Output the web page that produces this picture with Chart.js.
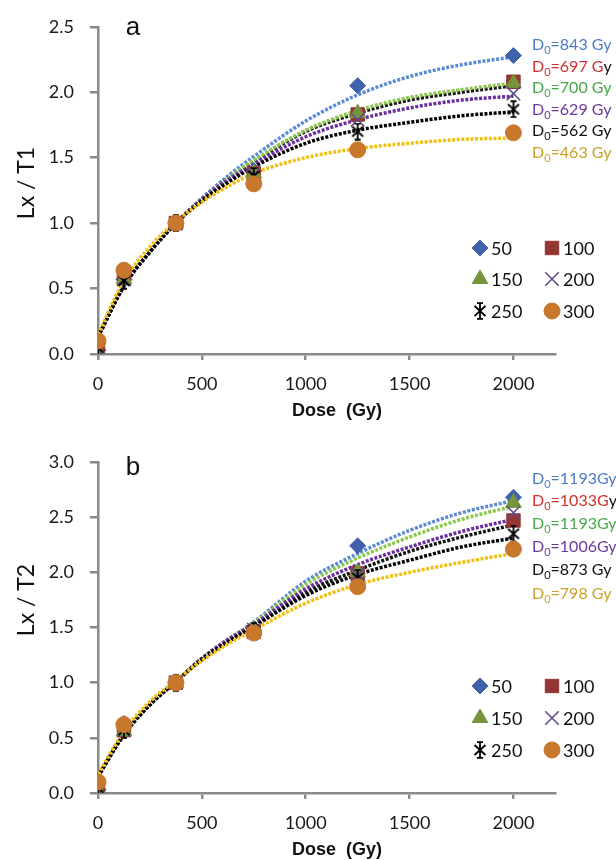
<!DOCTYPE html>
<html><head><meta charset="utf-8">
<script src="https://cdn.jsdelivr.net/npm/chart.js@4/dist/chart.umd.min.js"></script>
<style>
html,body{margin:0;padding:0;background:#fff;}
#wrap{width:616px;height:860px;position:relative;overflow:hidden;}
.box{position:absolute;left:0;width:616px;height:430px;}
</style></head><body>
<div id="wrap">
<div class="box" style="top:0"><canvas id="ca" width="616" height="430"></canvas></div>
<div class="box" style="top:430px"><canvas id="cb" width="616" height="430"></canvas></div>
</div>
<script>
// ---------- data ----------
const seriesNames = ['50','100','150','200','250','300'];
const doses = [0,125,375,750,1250,2000];
const fitDoses = [0,125,250,375,500,625,750,1000,1250,1500,1750,2000];
const yTicksA = [0,0.5,1.0,1.5,2.0,2.5];
const yTicksB = [0,0.5,1.0,1.5,2.0,2.5,3.0];
const xTicks = [0,500,1000,1500,2000];

// panel a measured points
const a50  = [0.03,0.57,1.00,1.40,2.05,2.28];
const a100 = [0.05,0.58,1.00,1.38,1.83,2.08];
const a150 = [0.02,0.57,1.00,1.38,1.84,2.07];
const a200 = [0.03,0.57,1.00,1.37,1.79,1.99];
const a250 = [0.05,0.56,1.00,1.36,1.70,1.87];
const a300 = [0.10,0.64,1.00,1.30,1.56,1.69];
// panel a fitted curves (read at fitDoses)
const aFit50  = [0.13,0.52,0.78,1.00,1.19,1.36,1.51,1.78,1.98,2.12,2.21,2.27];
const aFit100 = [0.13,0.52,0.78,1.00,1.18,1.34,1.47,1.70,1.84,1.94,2.00,2.05];
const aFit150 = [0.13,0.52,0.78,1.00,1.18,1.34,1.48,1.71,1.86,1.96,2.02,2.07];
const aFit200 = [0.13,0.52,0.78,1.00,1.18,1.33,1.45,1.66,1.79,1.88,1.94,1.97];
const aFit250 = [0.13,0.52,0.78,1.00,1.17,1.31,1.43,1.61,1.71,1.77,1.82,1.85];
const aFit300 = [0.15,0.56,0.82,1.01,1.16,1.28,1.38,1.50,1.57,1.61,1.64,1.65];
const aD0 = ['843 Gy','697 G','700 Gy','629 Gy','562 Gy','463 Gy'];
const aD0tail = ['','y','','','',''];

// panel b measured points
const b50  = [0.03,0.63,1.00,1.47,2.24,2.68];
const b100 = [0.05,0.57,1.00,1.46,1.99,2.47];
const b150 = [0.02,0.56,1.00,1.48,2.00,2.63];
const b200 = [0.03,0.57,1.00,1.48,1.98,2.54];
const b250 = [0.05,0.57,1.00,1.47,1.95,2.35];
const b300 = [0.10,0.62,1.00,1.45,1.87,2.21];
// panel b fitted curves
const bFit50  = [0.15,0.53,0.80,1.01,1.22,1.39,1.55,1.92,2.17,2.38,2.54,2.65];
const bFit100 = [0.15,0.53,0.80,1.01,1.21,1.38,1.52,1.82,2.02,2.19,2.32,2.43];
const bFit150 = [0.15,0.53,0.80,1.01,1.22,1.39,1.54,1.89,2.13,2.32,2.48,2.60];
const bFit200 = [0.15,0.53,0.80,1.01,1.22,1.39,1.53,1.85,2.07,2.23,2.37,2.48];
const bFit250 = [0.15,0.53,0.80,1.01,1.21,1.37,1.51,1.79,1.98,2.11,2.23,2.31];
const bFit300 = [0.17,0.56,0.83,1.02,1.20,1.35,1.48,1.72,1.89,2.00,2.09,2.17];
const bD0 = ['1193Gy','1033G','1193Gy','1006Gy','873 Gy','798 Gy'];
const bD0tail = ['','y','','','',''];

// ---------- styles ----------
const fitColors = ['#5b8bd6','#151515','#8cc84b','#6a2ea0','#000000','#f2c010'];
const labelColors = ['#4a7cc4','#d0312d','#46a846','#6a3a9c','#111111','#c9a228'];
const markFill = ['#3f62ab','#943634','#77933c','rgba(0,0,0,0)','rgba(0,0,0,0)','#c8782d'];
const markStroke = ['#3f62ab','#943634','#77933c','#5f4b8b','#000000','#c8782d'];
const markBW = [1,1,1,1.6,1.8,1];
const markRadius = [8,9.5,9,9.5,8,8];

function starCanvas(){
  const c=document.createElement('canvas'); c.width=16; c.height=18;
  const g=c.getContext('2d'); g.strokeStyle='#000'; g.lineWidth=1.8;
  g.beginPath();
  g.moveTo(8,1.5); g.lineTo(8,16.5);
  g.moveTo(2.5,4); g.lineTo(13.5,14);
  g.moveTo(13.5,4); g.lineTo(2.5,14);
  g.moveTo(5,1.2); g.lineTo(11,1.2);
  g.moveTo(5,16.8); g.lineTo(11,16.8);
  g.stroke();
  return c;
}
const markStyles = ['rectRot','rect','triangle','crossRot',starCanvas(),'circle'];

function makeAnnot(P){
  return {
    id:'annot'+P.letter,
    afterDraw(chart){
      const ctx = chart.ctx;
      ctx.save();
      ctx.fillStyle='#111'; ctx.font='26px "Liberation Sans"'; ctx.textAlign='center'; ctx.textBaseline='middle';
      ctx.fillText(P.letter, 133, P.letterY);
      ctx.font='bold 18px "Liberation Sans"'; ctx.fillStyle='#111';
      ctx.fillText('Dose  (Gy)', 337, chart.chartArea.bottom + 57);
      ctx.save(); ctx.translate(27, P.yTitleY); ctx.rotate(-Math.PI/2);
      ctx.font='23px Lato'; ctx.fillText(P.yTitle, 0, 0); ctx.restore();
      ctx.textAlign='left';
      for(let i=0;i<6;i++){
        let x = 532, y = P.labY[i];
        ctx.fillStyle = labelColors[i];
        ctx.font='16px Lato'; ctx.fillText('D', x, y); x += ctx.measureText('D').width;
        ctx.font='11px Lato'; ctx.fillText('0', x, y+5); x += ctx.measureText('0').width;
        ctx.font='16px Lato'; const t='='+P.d0[i]; ctx.fillText(t, x, y); x += ctx.measureText(t).width;
        if(P.tail[i]){ ctx.fillStyle='#111'; ctx.fillText(P.tail[i], x, y); }
      }
      ctx.font='18px Lato';
      for(let i=0;i<6;i++){
        const col=i%2, row=Math.floor(i/2);
        const mx=[480,552][col], tx=[491,563][col], y=P.legY[row];
        ctx.fillStyle=markFill[i]; ctx.strokeStyle=markStroke[i]; ctx.lineWidth=markBW[i];
        Chart.helpers.drawPoint(ctx,{pointStyle:markStyles[i],radius:markRadius[i],borderWidth:markBW[i],rotation:0},mx,y);
        ctx.fillStyle='#111'; ctx.fillText(seriesNames[i], tx, y+1);
      }
      ctx.restore();
    }
  };
}

function buildChart(id, P){
  const datasets=[];
  for(let i=0;i<6;i++){
    datasets.push({type:'line', data: fitDoses.map((d,k)=>({x:d,y:P.fits[i][k]})),
      borderColor:fitColors[i], borderWidth:3.5, borderDash:[3,1.6], borderCapStyle:'butt',
      pointRadius:0, tension:0.4, cubicInterpolationMode:'monotone', fill:false, order:30-i});
  }
  for(let i=0;i<6;i++){
    datasets.push({type:'scatter', label:seriesNames[i], data: doses.map((d,k)=>({x:d,y:P.marks[i][k]})),
      pointStyle:markStyles[i], pointRadius:markRadius[i], pointHoverRadius:markRadius[i],
      backgroundColor:markFill[i], borderColor:markStroke[i], borderWidth:markBW[i], order:10-i});
  }
  const axisCol='#8a8a8a';
  return new Chart(document.getElementById(id), {
    data:{datasets},
    options:{
      responsive:false, animation:false, devicePixelRatio:1,
      layout:{padding:{top:P.top, right:61, left:0, bottom:0}},
      plugins:{legend:{display:false}, tooltip:{enabled:false}},
      scales:{
        x:{type:'linear', min:0, max:2200,
          border:{color:axisCol, width:2.5},
          grid:{drawOnChartArea:false, drawTicks:true, tickLength:6, color:axisCol, lineWidth:2.5},
          ticks:{autoSkip:false, padding:13, color:'#1a1a1a', font:{family:'Lato', size:18}, maxRotation:0,
                 callback:(v)=> String(v)},
          afterBuildTicks(s){ s.ticks = xTicks.map(v=>({value:v})); },
          afterFit(s){ s.height = P.xh; }
        },
        y:{type:'linear', min:0, max:P.ymax,
          border:{color:axisCol, width:2.5},
          grid:{drawOnChartArea:false, drawTicks:true, tickLength:8, color:axisCol, lineWidth:2.5},
          ticks:{autoSkip:false, padding:16, color:'#1a1a1a', font:{family:'Lato', size:18},
                 callback:(v)=> Number(v).toFixed(1)},
          afterBuildTicks(s){ s.ticks = P.yTicks.map(v=>({value:v})); },
          afterFit(s){ s.width = 98; }
        }
      }
    },
    plugins:[makeAnnot(P)]
  });
}

buildChart('ca', {letter:'a', letterY:28, top:23, xh:76, ymax:2.5, yTicks:yTicksA, yTitle:'Lx / T1', yTitleY:183,
  marks:[a50,a100,a150,a200,a250,a300], fits:[aFit50,aFit100,aFit150,aFit200,aFit250,aFit300],
  d0:aD0, tail:aD0tail, labY:[45,67,88,110,131,153], legY:[248,279,311]});
buildChart('cb', {letter:'b', letterY:38, top:32, xh:67, ymax:3.0, yTicks:yTicksB, yTitle:'Lx / T2', yTitleY:170,
  marks:[b50,b100,b150,b200,b250,b300], fits:[bFit50,bFit100,bFit150,bFit200,bFit250,bFit300],
  d0:bD0, tail:bD0tail, labY:[49,71,94,117,140,164], legY:[256,288,320]});
</script>
</body></html>
